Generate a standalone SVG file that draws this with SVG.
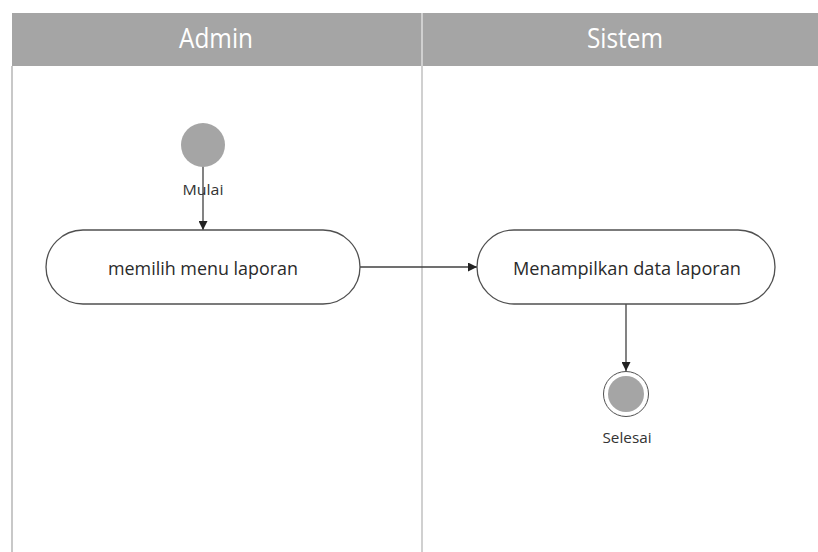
<svg xmlns="http://www.w3.org/2000/svg" width="818" height="552" viewBox="0 0 818 552">
<defs>
<style>
.hdr{fill:#a5a5a5}
.ht{font-family:"Open Sans","Liberation Sans",sans-serif;font-size:27px;fill:#ffffff;text-anchor:middle}
.act{fill:#ffffff;stroke:#505050;stroke-width:1.3}
.at{font-family:"Open Sans","Liberation Sans",sans-serif;font-size:19px;fill:#2a2a2a;text-anchor:middle}
.lbl{font-family:"Open Sans","Liberation Sans",sans-serif;font-size:14px;fill:#333;text-anchor:middle}
.conn{fill:none;stroke:#404040;stroke-width:1.3}
</style>
<marker id="arr" viewBox="0 0 10 10" refX="10" refY="5" markerWidth="9" markerHeight="9" markerUnits="userSpaceOnUse" orient="auto">
<path d="M0,0 L10,5 L0,10 z" fill="#222"/>
</marker>
</defs>
<rect width="818" height="552" fill="#ffffff"/>
<g id="lanes">
<rect class="hdr" x="12" y="13" width="806" height="53"/>
<line x1="422" y1="13" x2="422" y2="552" stroke="#d0d0d0" stroke-width="2"/>
<line x1="12" y1="66" x2="12" y2="552" stroke="#c8c8c8" stroke-width="2"/>
<text class="ht" x="216" y="48" textLength="74" lengthAdjust="spacingAndGlyphs">Admin</text>
<text class="ht" x="625" y="48" textLength="76" lengthAdjust="spacingAndGlyphs">Sistem</text>
</g>
<g id="connectors">
<line class="conn" x1="203" y1="162" x2="203" y2="230" marker-end="url(#arr)"/>
<line class="conn" x1="360" y1="267" x2="477" y2="267" marker-end="url(#arr)"/>
<line class="conn" x1="626" y1="304" x2="626" y2="371" marker-end="url(#arr)"/>
</g>
<g id="start">
<circle cx="203" cy="145" r="22" fill="#a5a5a5"/>
<text class="lbl" x="203" y="195" textLength="41" lengthAdjust="spacingAndGlyphs">Mulai</text>
</g>
<g id="act1">
<rect class="act" x="46" y="230" width="314" height="74" rx="37"/>
<text class="at" x="203" y="275" textLength="190" lengthAdjust="spacingAndGlyphs">memilih menu laporan</text>
</g>
<g id="act2">
<rect class="act" x="477" y="230" width="298" height="74" rx="37"/>
<text class="at" x="627" y="275" textLength="228" lengthAdjust="spacingAndGlyphs">Menampilkan data laporan</text>
</g>
<g id="end">
<circle cx="626" cy="394" r="22.5" fill="#ffffff" stroke="#505050" stroke-width="1"/>
<circle cx="626" cy="394" r="18" fill="#a5a5a5"/>
<text class="lbl" x="627" y="443" textLength="49" lengthAdjust="spacingAndGlyphs">Selesai</text>
</g>
</svg>
